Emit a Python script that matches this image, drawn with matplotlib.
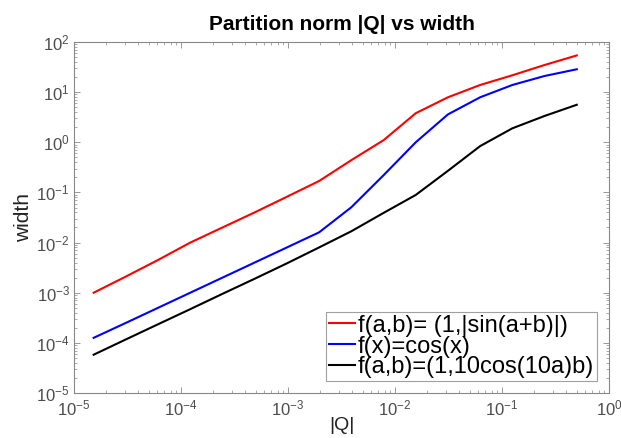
import numpy as np
import matplotlib
matplotlib.use("Agg")
import matplotlib.pyplot as plt
from matplotlib.ticker import LogLocator, NullFormatter

plt.rcParams['font.family'] = ['Liberation Sans', 'DejaVu Sans']
plt.rcParams['mathtext.default'] = 'regular'

# partition norm |Q| = 2^-16 ... 2^-1
q_norm = [2.0 ** -k for k in range(16, 0, -1)]

width_sin = [1.0e-3, 2.1e-3, 4.5e-3, 1.0e-2, 2.0e-2, 4.0e-2, 8.2e-2, 0.169,
             0.44, 1.1, 3.8, 7.9, 13.9, 21.7, 34.8, 54]
width_cos = [1.26e-4, 2.5e-4, 5.0e-4, 1.0e-3, 2.0e-3, 4.0e-3, 8.0e-3, 0.016,
             0.0506, 0.22, 1.0, 3.6, 7.9, 13.9, 21.0, 28.6]
width_10cos = [5.8e-5, 1.17e-4, 2.35e-4, 4.7e-4, 9.5e-4, 1.9e-3, 3.85e-3, 8.0e-3,
               0.0168, 0.039, 0.089, 0.27, 0.84, 1.9, 3.35, 5.6]

labels = ["f(a,b)= (1,|sin(a+b)|)", "f(x)=cos(x)", "f(a,b)=(1,10cos(10a)b)"]

fig = plt.figure(figsize=(6.21, 4.38), dpi=100)
ax = fig.add_axes([74 / 621, 1 - 393 / 438, 535 / 621, 351 / 438])

ax.loglog(q_norm, width_sin, color='red', lw=1.5, label=labels[0])
ax.loglog(q_norm, width_cos, color='blue', lw=1.5, label=labels[1])
ax.loglog(q_norm, width_10cos, color='black', lw=1.5, label=labels[2])

ax.set_xlim(1e-5, 1e0)
ax.set_ylim(1e-5, 1e2)
ax.xaxis.set_major_locator(LogLocator(base=10, numticks=10))
ax.yaxis.set_major_locator(LogLocator(base=10, numticks=10))
ax.xaxis.set_minor_locator(LogLocator(base=10, subs=np.arange(2, 10), numticks=20))
ax.yaxis.set_minor_locator(LogLocator(base=10, subs=np.arange(2, 10), numticks=20))
ax.xaxis.set_minor_formatter(NullFormatter())
ax.yaxis.set_minor_formatter(NullFormatter())

grey = '#4d4d4d'
for s in ax.spines.values():
    s.set_color('#888888')
    s.set_linewidth(0.8)
ax.tick_params(which='both', direction='in', top=True, right=True, colors='#888888',
               labelcolor=grey, labelsize=12)
ax.tick_params(which='major', length=4, width=0.6)
ax.tick_params(which='minor', length=2, width=0.5)
ax.tick_params(axis='x', pad=4)
ax.tick_params(axis='y', pad=3)

ax.set_xlabel("|Q|", fontsize=14, color='#222222', labelpad=-1)
ax.set_ylabel("width", fontsize=15, color='#222222', labelpad=2)
ax.set_title("Partition norm |Q| vs width", fontsize=15, fontweight='bold', pad=9)

leg = ax.legend(loc='lower right', fontsize=17, frameon=True, fancybox=False,
                edgecolor='#888888', handlelength=1.1, handletextpad=0.12,
                borderpad=0.12, labelspacing=-0.05, borderaxespad=0.5)
leg.get_frame().set_linewidth(0.8)

fig.savefig("out.png", dpi=100)
